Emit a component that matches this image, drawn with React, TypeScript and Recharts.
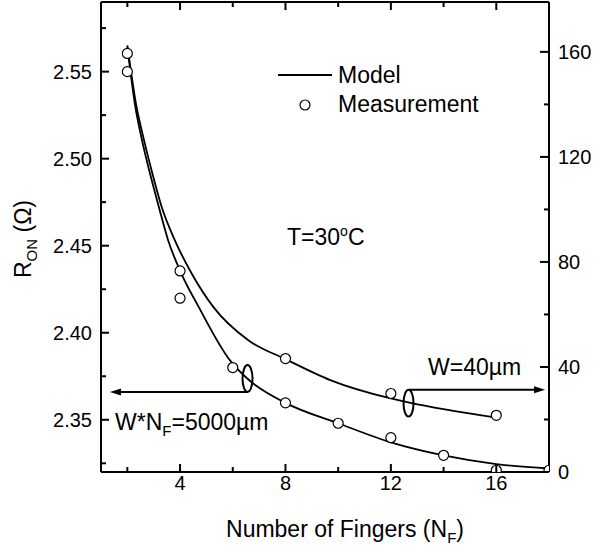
import React from "react"
import { ComposedChart, Line, Scatter, XAxis, YAxis, ReferenceLine, ReferenceDot } from "recharts"

const FONT = '"Liberation Sans", Arial, Helvetica, sans-serif'

// W*NF = 5000um devices, read on the left axis (ohm)
const fingersA = [2, 4, 6, 8, 10, 12, 14, 16, 18]
const ronMeasA = [2.55, 2.4355, 2.38, 2.3597, 2.348, 2.3397, 2.3296, 2.321, 2.321]
const modelFingersA = [2, 2.3, 2.55, 2.85, 3.2, 3.55, 4.05, 4.7, 5.9, 6.55, 8, 10, 12, 14, 16, 18]
const ronModelA = [2.564, 2.53, 2.511, 2.492, 2.472, 2.453, 2.434, 2.415, 2.384, 2.3737, 2.3597, 2.348, 2.337, 2.3295, 2.3245, 2.322]

// W = 40um devices, read on the right axis
const fingersB = [2, 4, 8, 12, 16]
const ronMeasB = [159.4, 66.2, 43.2, 29.9, 21.6]
const modelFingersB = [2, 2.35, 2.63, 2.95, 3.3, 3.8, 4.44, 5.26, 6.59, 8, 9.7, 12, 12.66, 16]
const ronModelB = [162.5, 139, 126.5, 113.7, 101, 88.3, 75.6, 62.9, 50.2, 43, 35, 28, 26.5, 20.7]

const xTicks = [2, 4, 6, 8, 10, 12, 14, 16]
const xLabels = [4, 8, 12, 16]
const leftTicks = [2.325, 2.35, 2.375, 2.4, 2.425, 2.45, 2.475, 2.5, 2.525, 2.55, 2.575]
const leftLabels = [2.35, 2.4, 2.45, 2.5, 2.55]
const rightTicks = [0, 20, 40, 60, 80, 100, 120, 140, 160]
const rightLabels = [0, 40, 80, 120, 160]

const toPts = (xs: number[], ys: number[]) => xs.map((x, i) => ({ x, y: ys[i] }))
const has = (arr: number[], v: number) => arr.some((a) => Math.abs(a - v) < 1e-6)

function BottomTick({ x, y, payload }: any) {
  const major = has(xLabels, payload.value)
  return (
    <g>
      <line x1={x} x2={x} y1={y} y2={y - (major ? 8 : 5)} stroke="#000" strokeWidth={2} />
      {major && (
        <text x={x} y={y + 18} textAnchor="middle" fontSize={20} fontFamily={FONT} fill="#000">
          {payload.value}
        </text>
      )}
    </g>
  )
}

function TopTick({ x, y, payload }: any) {
  const major = has(xLabels, payload.value)
  return <line x1={x} x2={x} y1={y} y2={y + (major ? 8 : 5)} stroke="#000" strokeWidth={2} />
}

function LeftTick({ x, y, payload }: any) {
  const major = has(leftLabels, payload.value)
  return (
    <g>
      <line x1={x} x2={x + (major ? 8 : 5)} y1={y} y2={y} stroke="#000" strokeWidth={2} />
      {major && (
        <text x={x - 9} y={y + 7} textAnchor="end" fontSize={20} fontFamily={FONT} fill="#000">
          {payload.value.toFixed(2)}
        </text>
      )}
    </g>
  )
}

function RightTick({ x, y, payload }: any) {
  const major = has(rightLabels, payload.value)
  return (
    <g>
      <line x1={x} x2={x - (major ? 9 : 5)} y1={y} y2={y} stroke="#000" strokeWidth={2} />
      {major && (
        <text x={x + 9} y={y + 7} textAnchor="start" fontSize={20} fontFamily={FONT} fill="#000">
          {payload.value}
        </text>
      )}
    </g>
  )
}

const Ring = (p: any) => <circle cx={p.cx} cy={p.cy} r={5} fill="#fff" stroke="#000" strokeWidth={1.2} />

const Oval = (p: any) => <ellipse cx={p.cx} cy={p.cy} rx={5} ry={13.4} fill="none" stroke="#000" strokeWidth={2} />

function Arrow(p: any) {
  const { x1, y1, x2, y2 } = p
  const dir = x2 > x1 ? 1 : -1
  return (
    <g>
      <line x1={x1} y1={y1} x2={x2 - dir * 8} y2={y2} stroke="#000" strokeWidth={2} />
      <polygon points={`${x2},${y2} ${x2 - dir * 11},${y2 - 3.5} ${x2 - dir * 11},${y2 + 3.5}`} fill="#000" />
    </g>
  )
}

export default function App() {
  const txt = { fontFamily: FONT, fontSize: 23, fill: "#000" }
  return (
    <div style={{ position: "absolute", left: 0, top: 0, width: 593, height: 549, background: "#fff" }}>
      <ComposedChart width={593} height={549} margin={{ top: 0, right: 0, bottom: 0, left: 0 }}>
        <XAxis
          xAxisId="b"
          type="number"
          dataKey="x"
          domain={[1, 18]}
          allowDataOverflow
          ticks={xTicks}
          interval={0}
          height={77}
          tickSize={0}
          tickMargin={0}
          tickLine={false}
          axisLine={{ stroke: "#000", strokeWidth: 2 }}
          tick={<BottomTick />}
        />
        <XAxis
          xAxisId="t"
          orientation="top"
          type="number"
          dataKey="x"
          domain={[1, 18]}
          allowDataOverflow
          ticks={xTicks}
          interval={0}
          height={2}
          tickSize={0}
          tickMargin={0}
          tickLine={false}
          axisLine={{ stroke: "#000", strokeWidth: 2 }}
          tick={<TopTick />}
        />
        <YAxis
          yAxisId="l"
          type="number"
          dataKey="y"
          domain={[2.32, 2.59]}
          allowDataOverflow
          ticks={leftTicks}
          interval={0}
          width={101}
          tickSize={0}
          tickMargin={0}
          tickLine={false}
          axisLine={{ stroke: "#000", strokeWidth: 2 }}
          tick={<LeftTick />}
        />
        <YAxis
          yAxisId="r"
          orientation="right"
          type="number"
          dataKey="y"
          domain={[0, 179]}
          allowDataOverflow
          ticks={rightTicks}
          interval={0}
          width={44}
          tickSize={0}
          tickMargin={0}
          tickLine={false}
          axisLine={{ stroke: "#000", strokeWidth: 2 }}
          tick={<RightTick />}
        />

        <Line
          xAxisId="b"
          yAxisId="l"
          data={toPts(modelFingersA, ronModelA)}
          dataKey="y"
          type="monotone"
          stroke="#000"
          strokeWidth={1.8}
          dot={false}
          isAnimationActive={false}
        />
        <Line
          xAxisId="b"
          yAxisId="r"
          data={toPts(modelFingersB, ronModelB)}
          dataKey="y"
          type="monotone"
          stroke="#000"
          strokeWidth={1.8}
          dot={false}
          isAnimationActive={false}
        />
        <Scatter xAxisId="b" yAxisId="l" data={toPts(fingersA, ronMeasA)} shape={Ring} isAnimationActive={false} />
        <Scatter xAxisId="b" yAxisId="r" data={toPts(fingersB, ronMeasB)} shape={Ring} isAnimationActive={false} />

        <ReferenceDot xAxisId="b" yAxisId="l" x={6.56} y={2.3737} r={5} shape={Oval} />
        <ReferenceLine
          xAxisId="b"
          yAxisId="l"
          segment={[{ x: 6.54, y: 2.366 }, { x: 1.34, y: 2.366 }]}
          shape={Arrow}
        />
        <ReferenceDot xAxisId="b" yAxisId="r" x={12.67} y={26.2} r={5} shape={Oval} />
        <ReferenceLine
          xAxisId="b"
          yAxisId="r"
          segment={[{ x: 12.7, y: 31.3 }, { x: 17.85, y: 31.3 }]}
          shape={Arrow}
        />
      </ComposedChart>

      <svg width={593} height={549} style={{ position: "absolute", left: 0, top: 0, pointerEvents: "none" }}>
        {/* legend */}
        <line x1={278} x2={332} y1={75} y2={75} stroke="#000" strokeWidth={1.8} />
        <text x={338} y={83} {...txt}>Model</text>
        <circle cx={305} cy={105} r={5} fill="#fff" stroke="#000" strokeWidth={1.2} />
        <text x={338} y={112} {...txt}>Measurement</text>

        <text x={287} y={245} {...txt}>
          T=30<tspan fontSize={14} dy={-9}>o</tspan>
          <tspan dy={9}>C</tspan>
        </text>
        <text x={115} y={430} {...txt}>
          W*N<tspan fontSize={15} dy={6}>F</tspan>
          <tspan dy={-6}>=5000µm</tspan>
        </text>
        <text x={428} y={375} {...txt}>W=40µm</text>

        {/* axis titles */}
        <text transform="translate(31,239) rotate(-90)" textAnchor="middle" {...txt}>
          R<tspan fontSize={15} dy={6}>ON</tspan>
          <tspan dy={-6}> (Ω)</tspan>
        </text>
        <text x={345} y={537} textAnchor="middle" {...txt}>
          Number of Fingers (N<tspan fontSize={15} dy={6}>F</tspan>
          <tspan dy={-6}>)</tspan>
        </text>
      </svg>
    </div>
  )
}
